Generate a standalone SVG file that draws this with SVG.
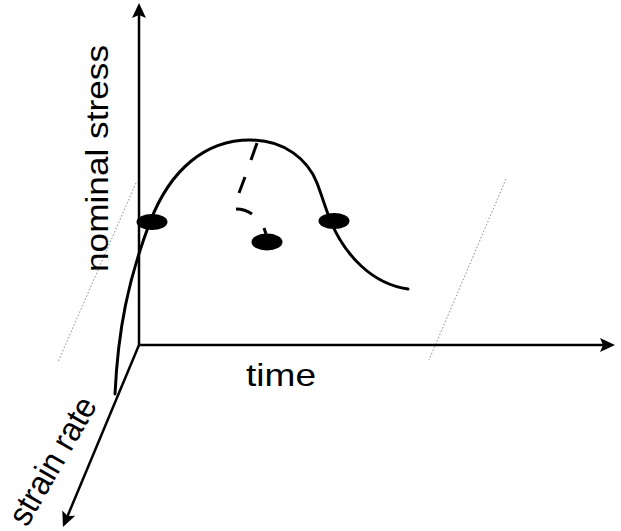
<svg xmlns="http://www.w3.org/2000/svg" width="621" height="531" viewBox="0 0 621 531">
  <style>
    .axis { stroke: #000; stroke-width: 2.5; fill: none; }
    .guide { stroke: #888; stroke-width: 1; stroke-dasharray: 1.5 2; fill: none; }
    .curve { stroke: #000; stroke-width: 3; fill: none; stroke-linecap: round; }
    .dash { stroke: #000; stroke-width: 3; fill: none; }
    .dot { fill: #000; }
    .label { font-family: "Liberation Sans", Arial, sans-serif; font-size: 32px; fill: #000; }
  </style>
  <defs>
    <marker id="arrow" markerUnits="userSpaceOnUse" markerWidth="16" markerHeight="15" refX="3" refY="7" orient="auto" overflow="visible">
      <path d="M0,0 L15,7 L0,14 L3,7 Z" fill="#000"/>
    </marker>
  </defs>
  <rect width="621" height="531" fill="#fff"/>
  <g id="guides">
    <line class="guide" x1="136" y1="183" x2="58" y2="362"/>
    <line class="guide" x1="506" y1="179" x2="429" y2="360"/>
  </g>
  <g id="connectors">
    <line class="axis" x1="139" y1="345" x2="139" y2="15" marker-end="url(#arrow)"/>
    <line class="axis" x1="139" y1="345" x2="603" y2="345" marker-end="url(#arrow)"/>
    <line class="axis" x1="139" y1="345" x2="67.6" y2="515.9" marker-end="url(#arrow)"/>
  </g>
  <g id="stress-curve">
    <path class="curve" d="M115,394 C118,330 128,280 150,222 C170,170 205,140 250,140 C285,140 308,160 317,183 C322,196 326,210 331,222 C345,255 372,284 408,289"/>
  </g>
  <g id="relaxation-path">
    <line class="dash" x1="257" y1="143" x2="251" y2="160"/>
    <line class="dash" x1="245" y1="177" x2="239" y2="193"/>
    <path class="dash" d="M236,209 Q245,209 252,214"/>
    <line class="dash" x1="264" y1="228" x2="266" y2="234"/>
  </g>
  <g id="point-left"><ellipse class="dot" cx="152" cy="222" rx="15.5" ry="8"/></g>
  <g id="point-middle"><ellipse class="dot" cx="267" cy="242" rx="15.5" ry="8.5"/></g>
  <g id="point-right"><ellipse class="dot" cx="334" cy="221" rx="15.5" ry="8"/></g>
  <g id="label-stress">
    <text class="label" transform="translate(108,272) rotate(-90)" textLength="227" lengthAdjust="spacingAndGlyphs">nominal stress</text>
  </g>
  <g id="label-time">
    <text class="label" x="246" y="386" textLength="70" lengthAdjust="spacingAndGlyphs">time</text>
  </g>
  <g id="label-strain">
    <text class="label" style="font-size:34px" transform="translate(27,528) rotate(-60)" textLength="142" lengthAdjust="spacingAndGlyphs">strain rate</text>
  </g>
</svg>
